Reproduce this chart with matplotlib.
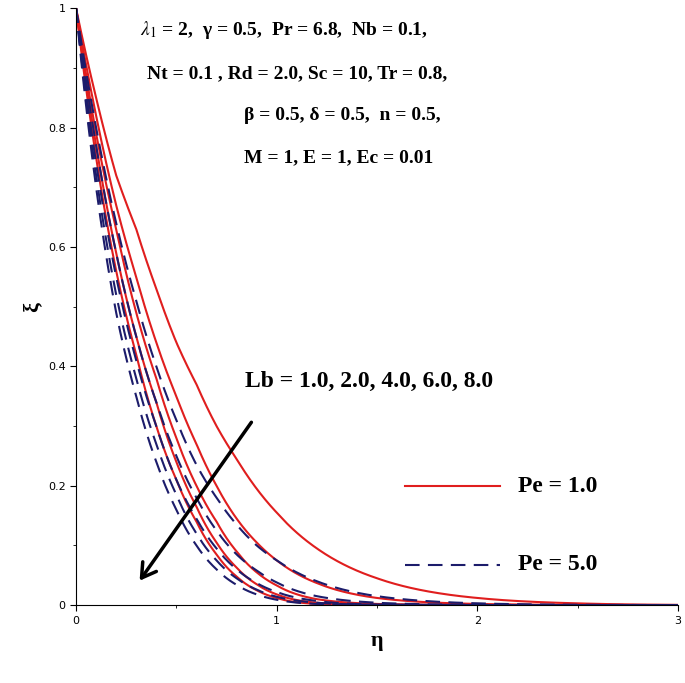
import numpy as np
import matplotlib
matplotlib.use("Agg")
import matplotlib.pyplot as plt
plt.rcParams["mathtext.fontset"] = "stix"

eta = [0, 0.1, 0.2, 0.3, 0.4, 0.5, 0.6, 0.7, 0.8, 0.9, 1.0, 1.2, 1.5, 2.0, 2.5, 3.0]
pe1 = [
    [1, 0.85, 0.72, 0.63, 0.53, 0.44, 0.37, 0.30, 0.245, 0.195, 0.155, 0.095, 0.045, 0.012, 0.003, 0.0005],
    [1, 0.82, 0.67, 0.55, 0.44, 0.35, 0.27, 0.20, 0.145, 0.105, 0.075, 0.037, 0.012, 0.002, 0.0004, 0.0001],
    [1, 0.79, 0.63, 0.49, 0.38, 0.28, 0.20, 0.14, 0.09, 0.055, 0.033, 0.010, 0.002, 0.0003, 0.0001, 0.0001],
    [1, 0.77, 0.59, 0.45, 0.34, 0.24, 0.165, 0.105, 0.063, 0.035, 0.018, 0.004, 0.0006, 0.0001, 0.0001, 0.0001],
    [1, 0.75, 0.56, 0.42, 0.30, 0.21, 0.14, 0.085, 0.048, 0.025, 0.012, 0.002, 0.0003, 0.0001, 0.0001, 0.0001],
]
pe5 = [
    [1, 0.80, 0.64, 0.51, 0.40, 0.31, 0.235, 0.18, 0.135, 0.10, 0.075, 0.040, 0.015, 0.003, 0.0006, 0.0001],
    [1, 0.77, 0.59, 0.45, 0.34, 0.25, 0.18, 0.125, 0.085, 0.058, 0.038, 0.015, 0.004, 0.0005, 0.0001, 0.0001],
    [1, 0.74, 0.55, 0.41, 0.30, 0.21, 0.145, 0.095, 0.06, 0.037, 0.022, 0.007, 0.001, 0.0002, 0.0001, 0.0001],
    [1, 0.72, 0.52, 0.38, 0.27, 0.185, 0.12, 0.075, 0.045, 0.026, 0.014, 0.004, 0.0005, 0.0001, 0.0001, 0.0001],
    [1, 0.70, 0.49, 0.35, 0.24, 0.16, 0.10, 0.06, 0.034, 0.018, 0.009, 0.002, 0.0003, 0.0001, 0.0001, 0.0001],
]
xticks = [0, 1, 2, 3]
yticks = [0, 0.2, 0.4, 0.6, 0.8, 1]

RED = "#e01e1e"
NAVY = "#1c1c6b"
serif = "Liberation Serif"

fig = plt.figure(figsize=(6.85, 6.83), dpi=100)
ax = fig.add_axes([0.111, 0.114, 0.879, 0.874])
dense = np.linspace(0, 3, 600)

def smooth(v):
    return np.exp(np.interp(dense, eta, np.log(np.array(v))))

for v in pe1:
    ax.plot(dense, smooth(v), color=RED, lw=1.5)
for v in pe5:
    ax.plot(dense, smooth(v), color=NAVY, lw=1.5, ls=(0, (7, 4)))

ax.set_xlim(0, 3)
ax.set_ylim(0, 1)
ax.set_xticks(xticks)
ax.set_yticks(yticks)
ax.set_xticklabels([str(t) for t in xticks])
ax.set_yticklabels(["0", "0.2", "0.4", "0.6", "0.8", "1"])
ax.set_xticks(np.arange(0, 3.01, 0.5), minor=True)
ax.set_yticks(np.arange(0, 1.01, 0.1), minor=True)
ax.tick_params(labelsize=8, direction="out", length=4)
ax.tick_params(which="minor", length=2)
for s in ["top", "right"]:
    ax.spines[s].set_visible(False)
ax.set_xlabel("η", fontsize=16, fontweight="bold", family=serif, labelpad=4)
ax.set_ylabel("ξ", fontsize=16, fontweight="bold", family=serif, labelpad=4)

def ftxt(x, y, s, size=14):
    fig.text(x / 685, 1 - y / 683, s, fontsize=size, fontweight="bold", family=serif,
             va="center", ha="left")

ftxt(140, 30, r"$\lambda_1$ = 2,  γ = 0.5,  Pr = 6.8,  Nb = 0.1,")
ftxt(147, 74, "Nt = 0.1 , Rd = 2.0, Sc = 10, Tr = 0.8,")
ftxt(244, 116, "β = 0.5, δ = 0.5,  n = 0.5,")
ftxt(244, 158, "M = 1, E = 1, Ec = 0.01")
ftxt(245, 381, "Lb = 1.0, 2.0, 4.0, 6.0, 8.0", size=17)
ftxt(518, 486, "Pe = 1.0", size=17)
ftxt(518, 565, "Pe = 5.0", size=17)

fig.add_artist(matplotlib.lines.Line2D([405 / 685, 500 / 685], [1 - 486 / 683] * 2, color=RED, lw=1.5))
fig.add_artist(matplotlib.lines.Line2D([405 / 685, 500 / 685], [1 - 565 / 683] * 2, color=NAVY, lw=1.5, ls=(0, (7, 4))))
fig.add_artist(matplotlib.patches.FancyArrowPatch((253 / 685, 1 - 420 / 683), (138 / 685, 1 - 583 / 683),
               transform=fig.transFigure, arrowstyle="->,head_length=10,head_width=6", color="black", lw=2.5))

fig.savefig("out.png", dpi=100)
